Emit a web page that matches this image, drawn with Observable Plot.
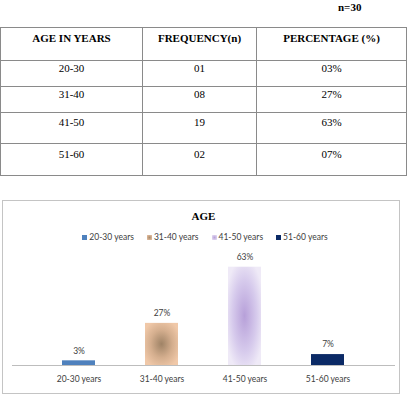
<!DOCTYPE html>
<html>
<head>
<meta charset="utf-8">
<script src="https://cdn.jsdelivr.net/npm/d3@7"></script>
<script src="https://cdn.jsdelivr.net/npm/@observablehq/plot@0.6"></script>
<style>
  html, body { margin: 0; padding: 0; background: #fff; }
  #page { position: relative; width: 407px; height: 406px; overflow: hidden; }
  .serif { font-family: "Liberation Serif", "DejaVu Serif", serif; }
  #n { position: absolute; left: 338px; top: 0px; font-size: 11px; font-weight: bold; line-height: 14px; }
  table { position: absolute; left: 0; top: 27px; width: 406px; border-collapse: collapse; font-size: 11px; table-layout: fixed; }
  td, th { border: 1px solid #8a8a8a; text-align: center; vertical-align: top; padding: 0; line-height: 13px; font-family: inherit; }
  th { font-weight: bold; height: 33px; padding-top: 4px; box-sizing: border-box; }
  tr:first-child th { border-top: 2px solid #b0b0b0; }
  #box { position: absolute; left: 2px; top: 200px; width: 398px; height: 194px; border: 1px solid #c4c4c4; box-sizing: border-box; }
  #title { position: absolute; left: 0; top: 209px; width: 407px; text-align: center; font-size: 11px; font-weight: bold; line-height: 14px; }
  #legend { position: absolute; left: 0; top: 231px; width: 410px; display: flex; justify-content: center; gap: 13px; font: 8.5px Lato, sans-serif; line-height: 12px; color: #404040; }
  #legend span.sw { display: inline-block; width: 5px; height: 5px; margin-right: 2px; vertical-align: 0px; }
  #chart { position: absolute; left: 0; top: 245px; }
</style>
</head>
<body>
<div id="page">
  <div id="n" class="serif">n=30</div>
  <table id="tbl" class="serif"></table>
  <div id="box"></div>
  <div id="title" class="serif">AGE</div>
  <div id="legend"></div>
  <div id="chart"></div>
</div>
<script>
// ---- data ----
const headers = ["AGE IN YEARS", "FREQUENCY(n)", "PERCENTAGE (%)"];
const ageRanges = ["20-30", "31-40", "41-50", "51-60"];
const frequencies = ["01", "08", "19", "02"];
const percentLabels = ["03%", "27%", "63%", "07%"];
const categories = ["20-30 years", "31-40 years", "41-50 years", "51-60 years"];
const percentages = [3, 27, 63, 7];

// ---- styles ----
const fills = ["#4f81bd", "url(#g2)", "url(#g3)", "#0b2a66"];
const swatchCss = [
  "#4f81bd",
  "radial-gradient(circle, #a98c6e, #efc6a6)",
  "radial-gradient(circle, #b9a2da, #ece6f6)",
  "#0b2a66"
];
const rowHeights = [26, 26, 31, 32];
const rowPads = [1, 1, 3, 4];
const colWidths = [142, 114, 150];

// ---- table ----
const tbl = document.getElementById("tbl");
const cg = document.createElement("colgroup");
colWidths.forEach(w => { const c = document.createElement("col"); c.style.width = w + "px"; cg.appendChild(c); });
tbl.appendChild(cg);
const hr = document.createElement("tr");
headers.forEach(h => { const th = document.createElement("th"); th.textContent = h; hr.appendChild(th); });
tbl.appendChild(hr);
ageRanges.forEach((a, i) => {
  const tr = document.createElement("tr");
  [a, frequencies[i], percentLabels[i]].forEach(v => {
    const td = document.createElement("td");
    td.textContent = v;
    td.style.height = rowHeights[i] + "px";
    td.style.paddingTop = rowPads[i] + "px";
    td.style.boxSizing = "border-box";
    tr.appendChild(td);
  });
  tbl.appendChild(tr);
});

// ---- legend ----
const lg = document.getElementById("legend");
categories.forEach((c, i) => {
  const it = document.createElement("div");
  it.innerHTML = `<span class="sw" style="background:${swatchCss[i]}"></span>${c}`;
  lg.appendChild(it);
});

// ---- chart ----
const data = categories.map((c, i) => ({category: c, value: percentages[i]}));
const chart = Plot.plot({
  width: 407,
  height: 145,
  marginLeft: 12,
  marginRight: 12,
  marginTop: 21.7,
  marginBottom: 25,
  style: {fontFamily: "Lato, sans-serif", fontSize: "8.5px", color: "#404040", background: "transparent", overflow: "visible"},
  x: {domain: categories, padding: 0.6, label: null},
  y: {domain: [0, 63], axis: null},
  color: {type: "ordinal", domain: categories, range: fills},
  marks: [
    Plot.barY(data, {x: "category", y: "value", fill: "category"}),
    Plot.ruleY([0], {stroke: "#bdbdbd"}),
    Plot.text(data, {x: "category", y: "value", text: d => d.value + "%", dy: -10, fill: "#404040"}),
    Plot.axisX({tickSize: 0, tickPadding: 10, fill: "#404040"})
  ]
});
const ns = "http://www.w3.org/2000/svg";
const defs = document.createElementNS(ns, "defs");
defs.innerHTML = `
  <radialGradient id="g2" cx="0.5" cy="0.5" r="0.6">
    <stop offset="0" stop-color="#9f8366"/>
    <stop offset="0.55" stop-color="#d4ae8e"/>
    <stop offset="1" stop-color="#f0c8a8"/>
  </radialGradient>
  <radialGradient id="g3" cx="0.5" cy="0.5" r="0.6">
    <stop offset="0" stop-color="#b7a0d9"/>
    <stop offset="0.6" stop-color="#d6caec"/>
    <stop offset="1" stop-color="#efeaf7"/>
  </radialGradient>`;
chart.insertBefore(defs, chart.firstChild);
document.getElementById("chart").appendChild(chart);
</script>
</body>
</html>
